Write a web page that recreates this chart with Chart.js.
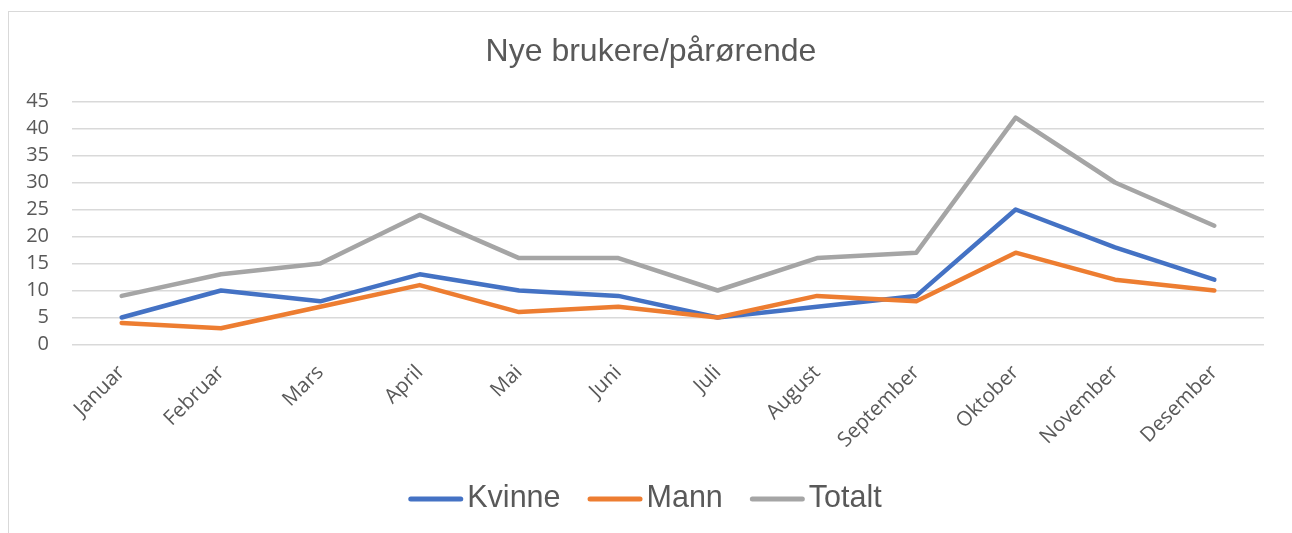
<!DOCTYPE html>
<html>
<head>
<meta charset="utf-8">
<script src="https://cdn.jsdelivr.net/npm/chart.js@4.4.0/dist/chart.umd.min.js"></script>
<style>
  html, body { margin: 0; padding: 0; background: #ffffff; }
  #wrap { width: 1292px; height: 533px; position: relative; }
</style>
</head>
<body>
<div id="wrap"><canvas id="c" width="1292" height="533"></canvas></div>
<script>
const titleText = "Nye brukere/pårørende";
const categories = ["Januar","Februar","Mars","April","Mai","Juni","Juli","August","September","Oktober","November","Desember"];
const seriesNames = ["Kvinne","Mann","Totalt"];
const kvinne = [5,10,8,13,10,9,5,7,9,25,18,12];
const mann = [4,3,7,11,6,7,5,9,8,17,12,10];
const totalt = [9,13,15,24,16,16,10,16,17,42,30,22];
const yTicks = [0,5,10,15,20,25,30,35,40,45];

const colors = ["#4472C4","#ED7D31","#A5A5A5"];
const textColor = "#595959";
const gridColor = "#D9D9D9";
const axisFont = "'Open Sans', 'Noto Sans', sans-serif";
const headFont = "'Liberation Sans', Arial, sans-serif";

const frame = {
  id: 'frame',
  beforeDraw(chart) {
    const ctx = chart.ctx;
    ctx.save();
    ctx.fillStyle = '#ffffff';
    ctx.fillRect(0, 0, chart.width, chart.height);
    ctx.strokeStyle = gridColor;
    ctx.lineWidth = 1;
    ctx.strokeRect(8.5, 11.5, chart.width + 20, chart.height + 20);
    ctx.restore();
  }
};

// shift the title block so it is centred on the chart frame rather than the canvas
const titleShift = {
  id: 'titleShift',
  afterLayout(chart) {
    const tb = chart.titleBlock;
    if (tb) { tb.left = 38; tb.right = 1264; }
  }
};

function drawLegend(ctx, datasets) {
  const lineLen = 55, gap = 4, itemGap = 27, centerX = 645, y = 499;
  ctx.save();
  ctx.font = "30.5px " + headFont;
  ctx.textBaseline = 'middle';
  const items = datasets.map(ds => ({label: ds.label, color: ds.borderColor, w: ctx.measureText(ds.label).width}));
  let total = 0;
  items.forEach((it, i) => { total += lineLen + gap + it.w + (i < items.length - 1 ? itemGap : 0); });
  let x = centerX - total / 2;
  items.forEach(it => {
    ctx.strokeStyle = it.color;
    ctx.lineWidth = 5;
    ctx.lineCap = 'round';
    ctx.beginPath();
    ctx.moveTo(x + 2.5, y);
    ctx.lineTo(x + lineLen - 2.5, y);
    ctx.stroke();
    ctx.fillStyle = textColor;
    ctx.textAlign = 'left';
    ctx.fillText(it.label, x + lineLen + gap, y);
    x += lineLen + gap + it.w + itemGap;
  });
  ctx.restore();
}

const seriesData = [kvinne, mann, totalt];
const datasets = seriesNames.map((name, i) => ({
  label: name,
  data: seriesData[i],
  borderColor: colors[i],
  backgroundColor: colors[i],
  borderWidth: 4.5,
  pointRadius: 0,
  pointHoverRadius: 0,
  tension: 0,
  borderJoinStyle: 'round',
  borderCapStyle: 'round',
  fill: false
})).reverse();

new Chart(document.getElementById('c'), {
  type: 'line',
  data: { labels: categories, datasets: datasets },
  plugins: [frame, titleShift, {
    id: 'customLegend',
    afterDraw(chart) {
      const ordered = seriesNames.map(n => chart.data.datasets.find(d => d.label === n));
      drawLegend(chart.ctx, ordered);
    }
  }],
  options: {
    responsive: false,
    animation: false,
    devicePixelRatio: 1,
    layout: { padding: { left: 0, right: 28, top: 0, bottom: 60 } },
    plugins: {
      legend: { display: false },
      tooltip: { enabled: false },
      title: {
        display: true,
        text: titleText,
        color: textColor,
        font: { family: headFont, size: 32, weight: 'normal', lineHeight: 1.2 },
        padding: { top: 32.5, bottom: 30.6 }
      }
    },
    scales: {
      x: {
        type: 'category',
        offset: true,
        grid: { display: false, drawTicks: false },
        border: { display: false },
        ticks: {
          color: textColor,
          font: { family: axisFont, size: 20.5 },
          maxRotation: 45,
          minRotation: 45,
          autoSkip: false,
          padding: 16
        },
        afterFit(scale) { scale.height = 128.5; }
      },
      y: {
        min: 0,
        max: 45,
        afterBuildTicks(scale) { scale.ticks = yTicks.map(v => ({value: v})); },
        grid: { color: gridColor, lineWidth: 1.5, drawTicks: false },
        border: { display: false },
        ticks: {
          color: textColor,
          font: { family: axisFont, size: 20 },
          padding: 23
        },
        afterFit(scale) { scale.width = 72; }
      }
    }
  }
});
</script>
</body>
</html>
